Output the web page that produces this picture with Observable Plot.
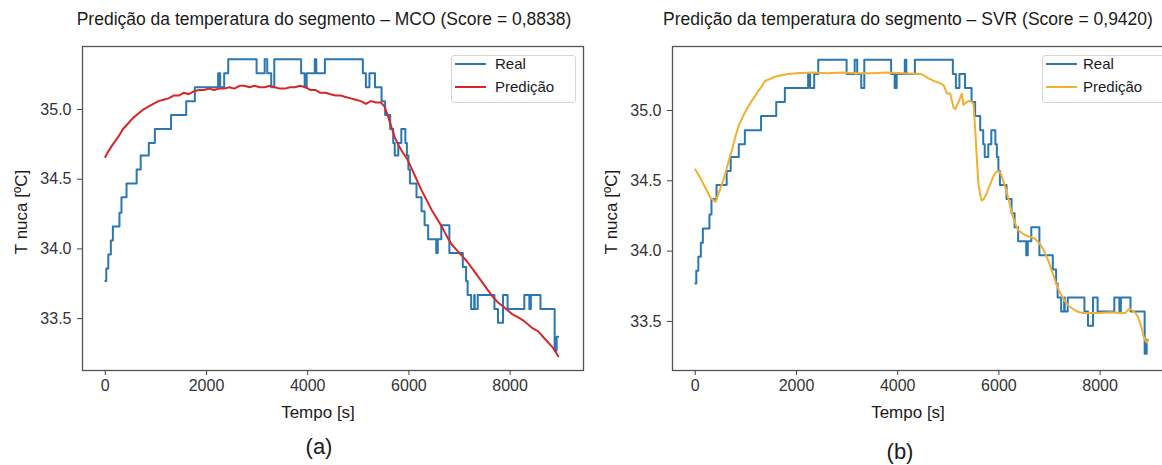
<!DOCTYPE html>
<html><head><meta charset="utf-8">
<script src="https://cdn.jsdelivr.net/npm/d3@7"></script>
<script src="https://cdn.jsdelivr.net/npm/@observablehq/plot@0.6"></script>
<style>
body{margin:0;overflow:hidden;background:#fff;font-family:"Liberation Sans",Arial,sans-serif;}
#root{position:relative;width:1162px;height:465px;overflow:hidden;background:#fff;}
.abs{position:absolute;white-space:nowrap;color:#1a1a1a;line-height:1;}
.svgwrap{position:absolute;top:0;width:600px;height:430px;}
.svgwrap svg{max-width:none !important;}
.legend{position:absolute;border:1px solid #d6d6d6;border-radius:3px;background:rgba(255,255,255,0.85);}
.legline{position:absolute;height:0;border-top:2px solid;}
</style></head><body><div id="root"></div>
<script>
// ---- data ----
const titles = ["Predição da temperatura do segmento – MCO (Score = 0,8838)",
                "Predição da temperatura do segmento – SVR (Score = 0,9420)"];
const panelTags = ["(a)", "(b)"];
const xLabel = "Tempo [s]";
const yLabel = "T nuca [ºC]";
const seriesNames = ["Real", "Predição"];
const xTicks = [0, 2000, 4000, 6000, 8000];
const yTicks = [33.5, 34.0, 34.5, 35.0];

// measured temperature (step series)
const realT = [0,20,60,110,150,280,320,420,620,700,860,980,1300,1600,1770,2230,2270,2350,2430,2990,3150,3200,3280,3340,3870,3940,3980,4140,4170,4340,5090,5150,5220,5330,5460,5530,5630,5690,5720,5790,5850,5930,5960,5990,6020,6150,6250,6310,6380,6540,6570,6640,6800,7065,7130,7160,7230,7290,7300,7360,7690,7760,7860,7950,8280,8380,8410,8600,8880,8920,8950];
const realV = [33.77,33.86,33.96,34.06,34.16,34.26,34.37,34.47,34.57,34.67,34.76,34.86,34.96,35.06,35.16,35.26,35.16,35.26,35.36,35.26,35.36,35.26,35.16,35.36,35.26,35.16,35.26,35.36,35.26,35.36,35.26,35.16,35.26,35.16,35.06,34.96,34.86,34.76,34.67,34.76,34.86,34.76,34.67,34.57,34.47,34.37,34.27,34.17,34.07,33.97,34.07,34.17,33.97,33.87,33.77,33.67,33.57,33.67,33.57,33.67,33.57,33.47,33.67,33.57,33.67,33.57,33.67,33.57,33.27,33.37,33.37];

// MCO prediction
const mcoT = [0,60,150,250,350,450,550,650,750,850,950,1050,1150,1250,1350,1450,1550,1650,1750,1850,1950,2050,2150,2250,2350,2450,2550,2650,2750,2850,2950,3050,3150,3250,3350,3450,3550,3650,3750,3850,3950,4050,4150,4250,4350,4450,4550,4650,4750,4850,4950,5050,5150,5250,5350,5450,5520,5580,5650,5720,5800,5880,5960,6050,6150,6250,6350,6450,6550,6650,6750,6850,6950,7050,7150,7250,7350,7450,7550,7650,7750,7850,7950,8050,8150,8250,8350,8450,8550,8650,8750,8850,8950];
const mcoV = [34.66,34.70,34.75,34.80,34.86,34.90,34.94,34.97,35.00,35.02,35.04,35.06,35.07,35.08,35.10,35.10,35.12,35.11,35.13,35.14,35.14,35.15,35.14,35.15,35.15,35.16,35.15,35.17,35.17,35.16,35.17,35.16,35.16,35.17,35.16,35.15,35.15,35.16,35.16,35.17,35.16,35.14,35.14,35.12,35.12,35.11,35.10,35.10,35.09,35.08,35.07,35.06,35.04,35.06,35.05,35.05,35.02,34.96,34.88,34.80,34.74,34.69,34.65,34.58,34.50,34.42,34.35,34.28,34.22,34.16,34.09,34.03,33.99,33.95,33.91,33.86,33.81,33.76,33.71,33.66,33.62,33.59,33.56,33.53,33.51,33.49,33.46,33.43,33.41,33.37,33.33,33.29,33.23];

// SVR prediction
const svrT = [0,100,200,300,400,470,550,600,660,725,790,856,920,987,1050,1118,1180,1248,1310,1379,1450,1575,1700,1837,2000,2300,2600,2900,3200,3500,3800,4100,4386,4450,4516,4600,4712,4800,4908,4974,5039,5104,5137,5202,5268,5300,5360,5431,5496,5529,5562,5595,5630,5660,5700,5758,5820,5889,5940,5987,6040,6085,6130,6183,6230,6281,6330,6379,6450,6543,6620,6706,6790,6869,6930,7000,7065,7131,7200,7294,7380,7458,7550,7654,7800,8000,8200,8400,8500,8569,8630,8699,8750,8798,8830,8863,8900,8928,8950];
const svrV = [34.58,34.52,34.45,34.38,34.35,34.42,34.50,34.56,34.64,34.72,34.81,34.89,34.94,34.99,35.03,35.07,35.10,35.14,35.17,35.21,35.22,35.24,35.25,35.26,35.265,35.27,35.265,35.27,35.265,35.265,35.27,35.265,35.26,35.26,35.25,35.23,35.21,35.20,35.18,35.12,35.12,35.02,35.01,35.06,35.12,35.04,35.06,35.07,35.05,34.88,34.67,34.48,34.40,34.36,34.37,34.41,34.47,34.53,34.56,34.57,34.55,34.50,34.45,34.38,34.31,34.24,34.19,34.15,34.13,34.11,34.10,34.09,34.06,34.02,33.97,33.91,33.84,33.77,33.71,33.65,33.61,33.59,33.57,33.56,33.56,33.56,33.565,33.56,33.56,33.59,33.58,33.56,33.53,33.48,33.44,33.39,33.36,33.35,33.37];

const blue = "#2a77b4";
const predColors = ["#d62728", "#f0b030"];

// ---- build ----
const real = realT.map((t, i) => ({t, v: realV[i]}));
const preds = [mcoT.map((t, i) => ({t, v: mcoV[i]})), svrT.map((t, i) => ({t, v: svrV[i]}))];
const yDomains = [[33.128, 35.452], [33.151, 35.455]];
const svgLeft = [0, 590];
const root = document.getElementById("root");

function add(html, style, cls = "abs") {
  const d = document.createElement("div");
  d.className = cls; d.innerHTML = html;
  Object.assign(d.style, style);
  root.appendChild(d);
  return d;
}

[0, 1].forEach(k => {
  const chart = Plot.plot({
    width: 600, height: 430,
    marginTop: 46, marginBottom: 60, marginLeft: 82, marginRight: 17,
    style: {fontFamily: '"Liberation Sans", Arial, sans-serif', fontSize: "16px", color: "#333", background: "transparent", overflow: "visible", maxWidth: "none"},
    x: {domain: [-450, 9450]},
    y: {domain: yDomains[k]},
    marks: [
      Plot.line(real, {x: "t", y: "v", curve: "step-after", stroke: blue, strokeWidth: 2}),
      Plot.line(preds[k], {x: "t", y: "v", stroke: predColors[k], strokeWidth: 2}),
      Plot.frame({stroke: "#555", strokeWidth: 1.3}),
      Plot.axisX(xTicks, {tickSize: 5, tickPadding: 4, tickFormat: d => String(d), label: null, stroke: "#444", fill: "#333"}),
      Plot.axisY(yTicks, {tickSize: 5, tickPadding: 6, tickFormat: d => d.toFixed(1), label: null, stroke: "#444", fill: "#333"})
    ]
  });
  const w = document.createElement("div");
  w.className = "svgwrap"; w.style.left = svgLeft[k] + "px";
  w.appendChild(chart); root.appendChild(w);
});

// titles
add(titles[0], {left: "324px", top: "11px", fontSize: "17.5px", transform: "translateX(-50%)"});
add(titles[1], {left: "908px", top: "11px", fontSize: "17.5px", transform: "translateX(-50%)"});
// x labels
add(xLabel, {left: "318px", top: "404px", fontSize: "17px", transform: "translateX(-50%)"});
add(xLabel, {left: "908px", top: "404px", fontSize: "17px", transform: "translateX(-50%)"});
// tags
add(panelTags[0], {left: "319px", top: "436px", fontSize: "22px", transform: "translateX(-50%)"});
add(panelTags[1], {left: "900px", top: "441px", fontSize: "22px", transform: "translateX(-50%)"});
// y labels
[21, 611].forEach(x => add(yLabel, {left: x + "px", top: "212px", fontSize: "17px", transform: "translate(-50%,-50%) rotate(-90deg)"}));

// legends
[[451, 455, 495, predColors[0], 123], [1042, 1046, 1083, predColors[1], 130]].forEach(([bx, lx, tx, col, bw]) => {
  add("", {left: bx + "px", top: "55px", width: bw + "px", height: "46px"}, "legend");
  [[seriesNames[0], blue, 64], [seriesNames[1], col, 87]].forEach(([name, c, y]) => {
    add("", {left: lx + "px", top: (y - 1) + "px", width: "31px", borderTopColor: c}, "legline");
    add(name, {left: tx + "px", top: (y - 8) + "px", fontSize: "15px"});
  });
});
</script></body></html>
